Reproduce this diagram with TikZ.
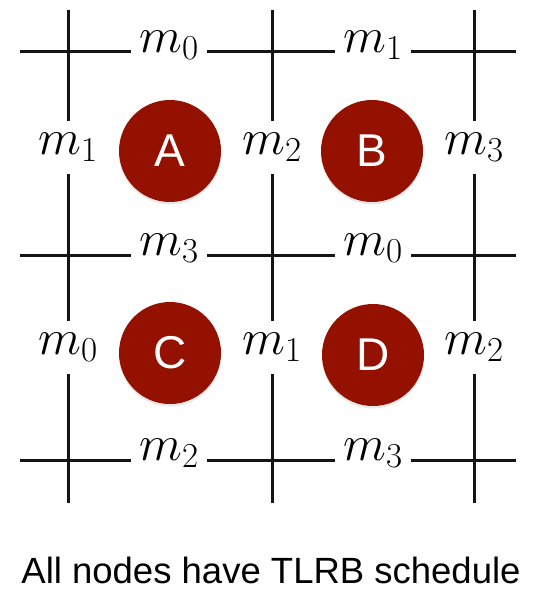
\RequirePackage{fix-cm}
\documentclass[tikz,border=0pt]{standalone}
\usepackage{fontspec}
\newfontfamily\lsans{Liberation Sans}
\usetikzlibrary{shadows}
\definecolor{nodered}{RGB}{148,17,0}
\begin{document}
\begin{tikzpicture}[x=1pt,y=-1pt,
  gridline/.style={line width=3pt, black!92},
  lbl/.style={fill=white, anchor=mid, font=\fontsize{50}{54}\selectfont},
  hlbl/.style={lbl, inner xsep=8pt, inner ysep=3pt},
  vlbl/.style={lbl, inner xsep=3pt, inner ysep=12pt},
  proc/.style={circle, fill=nodered, minimum size=102pt, inner sep=0pt, text=white,
    font=\lsans\fontsize{46}{48}\selectfont,
    drop shadow={opacity=0.18, shadow xshift=0pt, shadow yshift=-2.5pt}},
  caption/.style={font=\lsans\fontsize{36.5}{40}\selectfont, anchor=base, inner sep=0pt}
]
\useasboundingbox (0,0) rectangle (533,591);
% grid end points
\coordinate (v1t) at (68,10);  \coordinate (v1b) at (68,503);
\coordinate (v2t) at (272,10); \coordinate (v2b) at (272,503);
\coordinate (v3t) at (474,10); \coordinate (v3b) at (474,503);
\coordinate (h1l) at (20,52);  \coordinate (h1r) at (516,52);
\coordinate (h2l) at (20,255); \coordinate (h2r) at (516,255);
\coordinate (h3l) at (20,460); \coordinate (h3r) at (516,460);
\draw[gridline] (v1t) -- (v1b);
\draw[gridline] (v2t) -- (v2b);
\draw[gridline] (v3t) -- (v3b);
\draw[gridline] (h1l) -- (h1r);
\draw[gridline] (h2l) -- (h2r);
\draw[gridline] (h3l) -- (h3r);
% labels on horizontal lines
\node[hlbl] (t0) at (169,50) {$m_0$};
\node[hlbl] (t1) at (373,50) {$m_1$};
\node[hlbl] (c3) at (169,253) {$m_3$};
\node[hlbl] (c0) at (373,253) {$m_0$};
\node[hlbl] (b2) at (169,458) {$m_2$};
\node[hlbl] (b3) at (373,458) {$m_3$};
% labels on vertical lines
\node[vlbl] (la1) at (68,152) {$m_1$};
\node[vlbl] (mb2) at (272,152) {$m_2$};
\node[vlbl] (rc3) at (474,152) {$m_3$};
\node[vlbl] (la0) at (68,352) {$m_0$};
\node[vlbl] (mb1) at (272,352) {$m_1$};
\node[vlbl] (rc2) at (474,352) {$m_2$};
% processes
\node[proc] (A) at (170,151) {A};
\node[proc] (B) at (372,151) {B};
\node[proc] (C) at (170,353) {C};
\node[proc] (D) at (373,355) {D};
% caption
\node[caption] (cap) at (271,583) {All nodes have TLRB schedule};
\end{tikzpicture}
\end{document}
